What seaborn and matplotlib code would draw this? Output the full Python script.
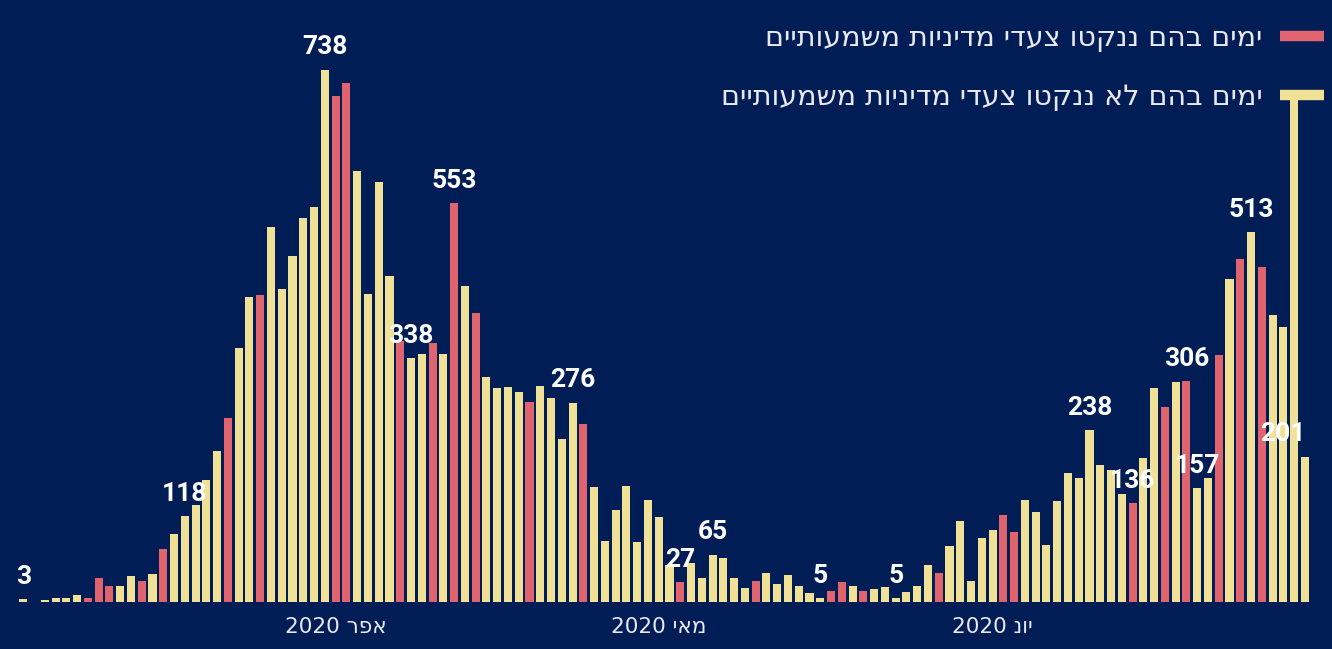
import pandas as pd
import matplotlib.pyplot as plt
from matplotlib.lines import Line2D
import seaborn as sns

# daily new cases, 3.3.2020 - 30.6.2020
start_date = "2020-03-03"
end_date = "2020-06-30"
cases = [
    3, 0, 2, 5, 5, 9, 5, 33, 21, 22, 36, 29, 38, 73, 94, 118, 134, 168, 209, 254,
    352, 423, 425, 520, 434, 480, 532, 547, 738, 702, 719, 598, 427, 582, 451, 362, 338, 343, 359, 343,
    553, 438, 400, 311, 296, 298, 291, 277, 299, 283, 225, 276, 247, 159, 84, 127, 160, 82, 141, 117,
    50, 27, 53, 32, 65, 61, 33, 19, 29, 39, 24, 37, 22, 12, 5, 15, 27, 22, 15, 17,
    20, 5, 13, 22, 50, 40, 77, 112, 28, 88, 99, 120, 96, 141, 124, 78, 139, 179, 171, 238,
    190, 182, 149, 136, 199, 296, 270, 304, 306, 157, 172, 342, 448, 475, 513, 464, 398, 381, 706, 201,
]

# days on which significant policy steps were taken
policy_dates = [
    "2020-03-09", "2020-03-10", "2020-03-11", "2020-03-14", "2020-03-16", "2020-03-22",
    "2020-03-25", "2020-04-01", "2020-04-02", "2020-04-07", "2020-04-10", "2020-04-12",
    "2020-04-14", "2020-04-19", "2020-04-24", "2020-05-03", "2020-05-10", "2020-05-17",
    "2020-05-18", "2020-05-20", "2020-05-27", "2020-06-02", "2020-06-03", "2020-06-14",
    "2020-06-17", "2020-06-19", "2020-06-22", "2020-06-24", "2020-06-26",
]

# bars that carry a value label
labeled_dates = [
    "2020-03-03", "2020-03-18", "2020-03-31", "2020-04-08", "2020-04-12", "2020-04-23",
    "2020-05-03", "2020-05-06", "2020-05-16", "2020-05-23", "2020-06-10", "2020-06-14",
    "2020-06-19", "2020-06-20", "2020-06-25", "2020-06-30",
]

month_ticks = ["2020-04-01", "2020-05-01", "2020-06-01"]
month_labels = ["אפר 2020", "מאי 2020", "יונ 2020"]

legend_labels = [
    "ימים בהם ננקטו צעדי מדיניות משמעותיים",
    "ימים בהם לא ננקטו צעדי מדיניות משמעותיים",
]

BG = "#001E55"
RED = "#E0646E"
YELLOW = "#F0E196"
TEXT = "#E8E8EE"


def visual_rtl(s):
    # matplotlib has no bidi support: reverse hebrew words and their order
    words = s.split(" ")
    out = []
    for w in reversed(words):
        if any("\u0590" <= ch <= "\u05ff" for ch in w):
            out.append(w[::-1])
        else:
            out.append(w)
    return " ".join(out)


df = pd.DataFrame({"date": pd.date_range(start_date, end_date, freq="D"), "cases": cases})
df["day"] = df["date"].dt.strftime("%Y-%m-%d")
df["policy"] = df["day"].isin(policy_dates)

sns.set_style("white")
plt.rcParams["font.family"] = ["DejaVu Sans", "Liberation Sans"]

fig = plt.figure(figsize=(13.32, 6.49), dpi=100, facecolor=BG)
ax = fig.add_axes([17.9 / 1332, 47.5 / 649, 1292.4 / 1332, 576.5 / 649])
ax.set_facecolor(BG)

sns.barplot(data=df, x="day", y="cases", hue="policy", palette={True: RED, False: YELLOW},
            dodge=False, width=0.75, saturation=1, linewidth=0, legend=False, ax=ax)

ax.set_xlim(-0.5, len(df) - 0.5)
ax.set_ylim(0, 800)

# value labels
for i, row in df.iterrows():
    if row["day"] in labeled_dates:
        dx = -16 if i == len(df) - 1 else 0
        ax.annotate(str(row["cases"]), (i, row["cases"]), xytext=(dx, 11),
                    textcoords="offset points", ha="center", va="baseline",
                    color="white", fontsize=19, fontweight="bold", family="Roboto")

tick_pos = [df.index[df["day"] == d][0] for d in month_ticks]
ax.set_xticks(tick_pos)
ax.set_xticklabels([visual_rtl(m) for m in month_labels], color=TEXT, fontsize=15.5)
ax.tick_params(axis="x", length=0, pad=11)
ax.set_yticks([])
ax.set_xlabel("")
ax.set_ylabel("")
for s in ax.spines.values():
    s.set_visible(False)

handles = [Line2D([], [], color=RED, lw=7.5, solid_capstyle="butt"),
           Line2D([], [], color=YELLOW, lw=7.5, solid_capstyle="butt")]
fig.legend(handles, [visual_rtl(t) for t in legend_labels], loc="upper right",
           bbox_to_anchor=(1324 / 1332, 1 - 24 / 649), frameon=False, markerfirst=False,
           fontsize=20.5, labelcolor=TEXT, handlelength=1.55, handletextpad=0.6,
           labelspacing=1.1, borderpad=0, borderaxespad=0)

fig.savefig("out.png", dpi=100, facecolor=BG)
